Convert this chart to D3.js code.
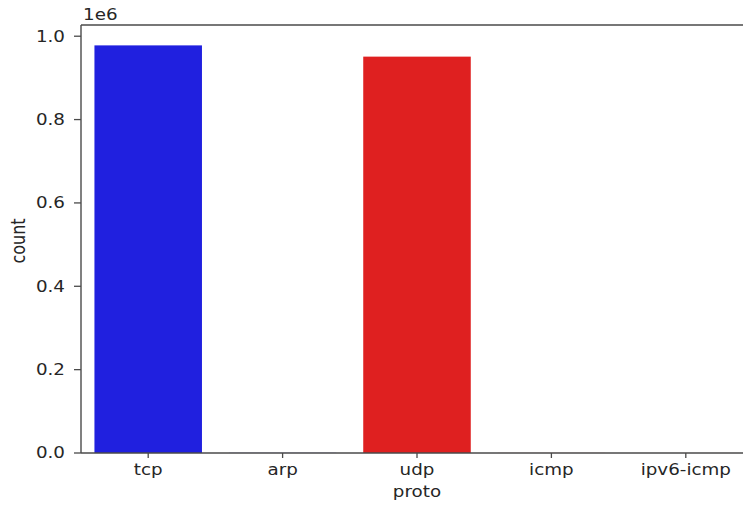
<!DOCTYPE html>
<html><head><meta charset="utf-8">
<script src="https://cdn.jsdelivr.net/npm/d3@7"></script>
<style>body{margin:0;background:#fff;} text{font-family:"DejaVu Sans",sans-serif;}</style>
</head><body>
<svg id="c" width="743" height="505"></svg>
<script>
const categories = ["tcp","arp","udp","icmp","ipv6-icmp"];
const counts = [978000, 300, 951000, 200, 50];
const barColors = ["#2020df","#2020df","#df2020","#df2020","#df2020"];
const yTicks = [0,0.2,0.4,0.6,0.8,1.0];

const svg = d3.select("#c");
const L = 81, R = 753, T = 25, B = 453;
const SX = 1.22, FS = 15, TXT = "#262626";
const x = d3.scaleLinear().domain([-0.5, categories.length-0.5]).range([L,R]);
const yMax = d3.max(counts)*1.05;
const y = d3.scaleLinear().domain([0, yMax]).range([B,T]);

svg.selectAll("rect.bar").data(counts).enter().append("rect")
  .attr("class","bar")
  .attr("x",(d,i)=>x(i-0.4)).attr("width",(d,i)=>x(i+0.4)-x(i-0.4))
  .attr("y",d=>y(d)).attr("height",d=>B-y(d))
  .attr("fill",(d,i)=>barColors[i]);

const stroke="#4a4a4a";
[[L,L,T,B],[L,R,B,B],[L,R,T,T],[R,R,T,B]].forEach(s=>{
  svg.append("line").attr("x1",s[0]).attr("x2",s[1]).attr("y1",s[2]).attr("y2",s[3])
    .attr("stroke",stroke).attr("stroke-width",1.4);
});

function label(xp, yp, txt, anchor){
  return svg.append("text").attr("transform",`translate(${xp},${yp}) scale(${SX},1)`)
    .attr("text-anchor",anchor).attr("font-size",FS).attr("fill",TXT).text(txt);
}

yTicks.forEach(t=>{
  const yy = y(t*1e6);
  svg.append("line").attr("x1",L-7).attr("x2",L).attr("y1",yy).attr("y2",yy).attr("stroke",stroke).attr("stroke-width",1.3);
  label(L-16, yy, t.toFixed(1), "end").attr("dy","0.36em");
});
label(83, 20, "1e6", "start");

categories.forEach((c,i)=>{
  const xx = x(i);
  svg.append("line").attr("x1",xx).attr("x2",xx).attr("y1",B).attr("y2",B+5).attr("stroke",stroke).attr("stroke-width",1.3);
  label(xx, B+22, c, "middle");
});
label(x(2), 497, "proto", "middle");
svg.append("text").attr("transform",`translate(25,${(T+B)/2+2}) scale(${SX},1) rotate(-90)`)
  .attr("text-anchor","middle").attr("font-size",FS+1).attr("fill",TXT).text("count");
</script>
</body></html>
